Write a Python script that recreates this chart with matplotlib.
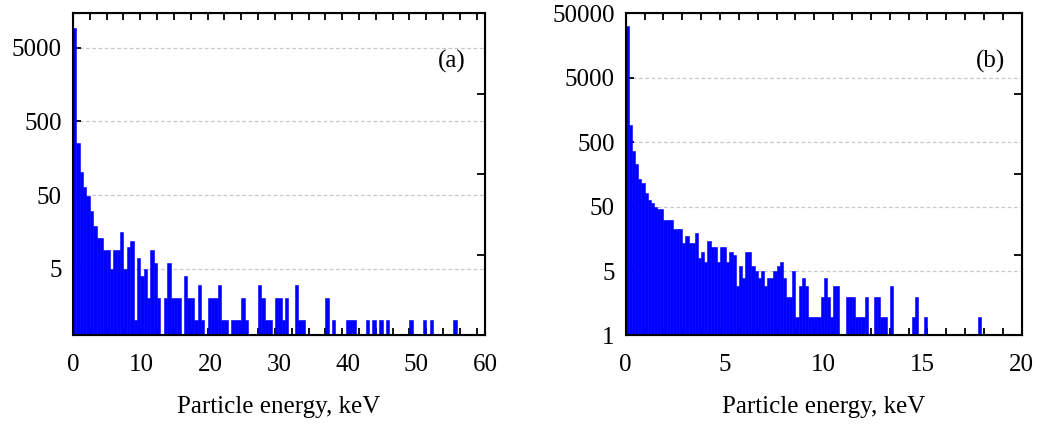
import matplotlib.pyplot as plt
import numpy as np
from matplotlib.ticker import MultipleLocator, NullLocator

plt.rcParams['font.family'] = ['Liberation Serif', 'DejaVu Serif']

# panel (a): counts per 0.49 keV bin
bin_a = 0.49
counts_a = [9300, 258, 104, 64, 49, 30, 19, 13, 13, 9,
            9, 5, 9, 9, 16, 5, 10, 12, 1, 7,
            4, 5, 2, 9, 6, 2, 0, 2, 6, 2,
            2, 2, 0, 4, 2, 2, 1, 3, 1, 0,
            2, 2, 2, 3, 1, 1, 0, 1, 1, 1,
            2, 1, 0, 0, 0, 3, 2, 1, 1, 0,
            2, 2, 1, 2, 0, 0, 3, 1, 1, 0,
            0, 0, 0, 0, 0, 2, 0, 1, 0, 0,
            0, 1, 1, 1, 0, 0, 0, 1, 0, 1,
            0, 1, 0, 1, 0, 0, 0, 0, 0, 0,
            1, 0, 0, 0, 1, 0, 1, 0, 0, 0,
            0, 0, 0, 1]
yticks_a = [5, 50, 500, 5000]
ylabels_a = ['5', '50', '500', '5000']

# panel (b): counts per 20/126 keV bin
bin_b = 20 / 126
counts_b = [31000, 916, 367, 228, 137, 119, 82, 64, 58, 50,
            46, 46, 31, 31, 31, 23, 23, 23, 14, 18,
            14, 14, 20, 8, 10, 7, 15, 12, 12, 7,
            12, 12, 7, 10, 9, 3, 6, 4, 10, 10,
            6, 5, 4, 5, 3, 4, 4, 5, 6, 7,
            4, 2, 2, 5, 1, 3, 4, 3, 1, 1,
            1, 1, 2, 4, 2, 1, 3, 3, 0, 0,
            2, 2, 2, 1, 1, 1, 2, 0, 0, 2,
            2, 1, 1, 0, 3, 0, 0, 0, 0, 0,
            0, 1, 2, 0, 0, 1, 0, 0, 0, 0,
            0, 0, 0, 0, 0, 0, 0, 0, 0, 0,
            0, 0, 1]
yticks_b = [0.52, 5, 50, 500, 5000, 50000]
ylabels_b = ['1', '5', '50', '500', '5000', '50000']

fs = 18


def panel(rect, counts, width, xmax, xminor, ylim, yticks, ylabels, grid, tag):
    ax = fig.add_axes(rect)
    counts = np.array(counts)
    left = np.arange(len(counts)) * width
    keep = counts > 0
    ax.bar(left[keep], counts[keep], width, align='edge', color='#0000ff',
           edgecolor='#0000ff', linewidth=0.4)
    ax.set_yscale('log')
    ax.set_xlim(0, xmax)
    ax.set_ylim(*ylim)
    ax.set_yticks(yticks)
    ax.set_yticklabels(ylabels)
    ax.yaxis.set_minor_locator(NullLocator())
    ax.set_xticks(np.arange(0, xmax + 1, 10 if xmax == 60 else 5))
    ax.xaxis.set_minor_locator(MultipleLocator(xminor))
    for g in grid:
        ax.axhline(g, color='#c8c8c8', lw=0.9, ls=(0, (3, 2)), zorder=0)
    ax.set_axisbelow(True)
    ax.tick_params(axis='x', which='major', length=0, pad=14, labelsize=fs)
    ax.tick_params(axis='x', which='minor', direction='in', length=5, width=1.3,
                   top=True, bottom=True)
    ax.tick_params(axis='y', which='major', direction='in', length=6, width=1.3,
                   right=False, pad=8, labelsize=fs)
    for s in ax.spines.values():
        s.set_linewidth(1.5)
    ax.set_xlabel('Particle energy, keV', fontsize=fs, labelpad=14)
    ax.text(0.92, 0.848, tag, transform=ax.transAxes, fontsize=fs,
            ha='center', va='center')
    # plain ticks on the right edge at quarter heights
    ax2 = ax.twinx()
    ax2.set_ylim(0, 4)
    ax2.set_yticks([1, 2, 3])
    ax2.set_yticklabels([])
    ax2.tick_params(axis='y', direction='in', length=6, width=1.3)
    return ax


fig = plt.figure(figsize=(10.46, 4.32), dpi=100)
panel([0.0698, 0.2245, 0.3939, 0.7454], counts_a, bin_a, 60, 2.45,
      (0.63, 14800), yticks_a, ylabels_a, yticks_a, '(a)')
panel([0.5982, 0.2245, 0.3786, 0.7454], counts_b, bin_b, 20, 20 / 21,
      (0.52, 50000), yticks_b, ylabels_b, [5, 50, 500, 5000], '(b)')

fig.savefig('out.png', dpi=100)
